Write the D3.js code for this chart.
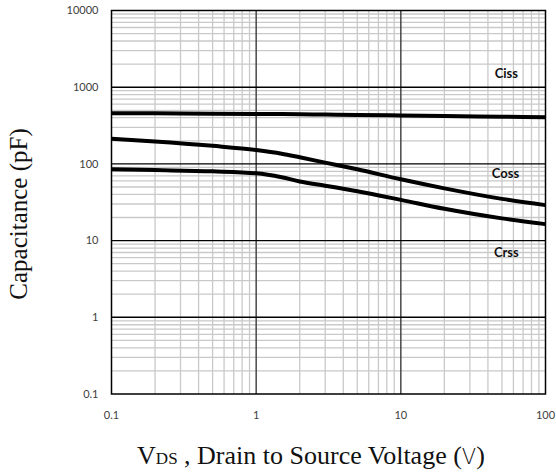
<!DOCTYPE html>
<html>
<head>
<meta charset="utf-8">
<script src="https://cdn.jsdelivr.net/npm/d3@7"></script>
<style>
  html, body { margin: 0; padding: 0; background: #fff; }
  svg { display: block; }
</style>
</head>
<body>
<svg id="chart" width="556" height="472"></svg>
<script>
// Capacitance vs drain-source voltage (log-log)
const xTicks = [0.1, 1, 10, 100];
const xTickLabels = ["0.1", "1", "10", "100"];
const yTicks = [0.1, 1, 10, 100, 1000, 10000];
const yTickLabels = ["0.1", "1", "10", "100", "1000", "10000"];

const vds = [0.1, 0.2, 0.5, 1, 1.5, 2, 3, 5, 10, 20, 50, 100];
const ciss = [458, 456, 452, 448, 446, 444, 440, 435, 428, 420, 412, 406];
const coss = [212, 196, 172, 152, 136, 122, 104, 85, 63, 48, 35, 29];
const crss = [85, 83, 80, 75.5, 67, 59, 52, 44, 34, 26, 19.5, 16.4];

const seriesNames = ["Ciss", "Coss", "Crss"];
const seriesLabelAt = [[44.5, 1530], [42.5, 74], [44, 7.1]];

const svg = d3.select("#chart");
const m = { left: 111.5, right: 545.5, top: 10.5, bottom: 394 };

const x = d3.scaleLog().domain([0.1, 100]).range([m.left, m.right]);
const y = d3.scaleLog().domain([0.1, 10000]).range([m.bottom, m.top]);

// minor grid
const minorX = [];
const minorY = [];
for (let d = 0.1; d < 100; d *= 10) for (let k = 2; k <= 9; k++) minorX.push(d * k);
for (let d = 0.1; d < 10000; d *= 10) for (let k = 2; k <= 9; k++) minorY.push(d * k);

const grid = svg.append("g");
grid.selectAll("line.mx").data(minorX).join("line")
  .attr("x1", d => x(d)).attr("x2", d => x(d))
  .attr("y1", m.top).attr("y2", m.bottom)
  .attr("stroke", "#c9c9c9").attr("stroke-width", 1.3);
grid.selectAll("line.my").data(minorY).join("line")
  .attr("y1", d => y(d)).attr("y2", d => y(d))
  .attr("x1", m.left).attr("x2", m.right)
  .attr("stroke", "#c9c9c9").attr("stroke-width", 1.3);

// major grid
grid.selectAll("line.Mx").data(xTicks.slice(1, -1)).join("line")
  .attr("x1", d => x(d)).attr("x2", d => x(d))
  .attr("y1", m.top).attr("y2", m.bottom)
  .attr("stroke", "#3a3a3a").attr("stroke-width", 1.4);
grid.selectAll("line.My").data(yTicks.slice(1, -1)).join("line")
  .attr("y1", d => y(d)).attr("y2", d => y(d))
  .attr("x1", m.left).attr("x2", m.right)
  .attr("stroke", "#000").attr("stroke-width", 1.4);

// frame
svg.append("rect")
  .attr("x", m.left).attr("y", m.top)
  .attr("width", m.right - m.left).attr("height", m.bottom - m.top)
  .attr("fill", "none").attr("stroke", "#000").attr("stroke-width", 1.5);

// curves
const line = d3.line().x(d => x(d[0])).y(d => y(d[1])).curve(d3.curveMonotoneX);
[ciss, coss, crss].forEach(vals => {
  svg.append("path")
    .datum(vds.map((v, i) => [v, vals[i]]))
    .attr("d", line)
    .attr("fill", "none").attr("stroke", "#000")
    .attr("stroke-width", 4).attr("stroke-linejoin", "round");
});

// series labels
svg.selectAll("text.sl").data(seriesNames).join("text")
  .attr("x", (d, i) => x(seriesLabelAt[i][0]))
  .attr("y", (d, i) => y(seriesLabelAt[i][1]))
  .attr("dy", "0.35em")
  .attr("font-family", "Lato, 'Open Sans', sans-serif")
  .attr("font-weight", "bold").attr("font-size", 13).attr("fill", "#111")
  .text(d => d);

// tick labels
svg.selectAll("text.yt").data(yTicks).join("text")
  .attr("x", m.left - 13).attr("y", d => y(d)).attr("dy", "0.35em")
  .attr("text-anchor", "end")
  .attr("font-family", "Lato, 'Open Sans', sans-serif").attr("font-size", 11)
  .attr("fill", "#404040")
  .text((d, i) => yTickLabels[i]);
svg.selectAll("text.xt").data(xTicks).join("text")
  .attr("x", d => x(d)).attr("y", m.bottom + 21).attr("dy", "0.35em")
  .attr("text-anchor", "middle")
  .attr("font-family", "Lato, 'Open Sans', sans-serif").attr("font-size", 11)
  .attr("fill", "#404040")
  .text((d, i) => xTickLabels[i]);

// axis titles
const xt = svg.append("text")
  .attr("x", 311).attr("y", 464)
  .attr("text-anchor", "middle")
  .attr("font-family", "'Liberation Serif', 'Times New Roman', serif")
  .attr("font-size", 26).attr("fill", "#111");
xt.append("tspan").text("V");
xt.append("tspan").attr("font-size", 17).text("DS");
xt.append("tspan").text(" , Drain to Source Voltage (");
xt.append("tspan").attr("font-family", "'DejaVu Sans', sans-serif").attr("font-weight", 300).attr("font-size", 21).text("V");
xt.append("tspan").text(")");

svg.append("text")
  .attr("transform", "translate(27,214) rotate(-90)")
  .attr("text-anchor", "middle")
  .attr("font-family", "'Liberation Serif', 'Times New Roman', serif")
  .attr("font-size", 25).attr("fill", "#111")
  .text("Capacitance (pF)");
</script>
</body>
</html>
